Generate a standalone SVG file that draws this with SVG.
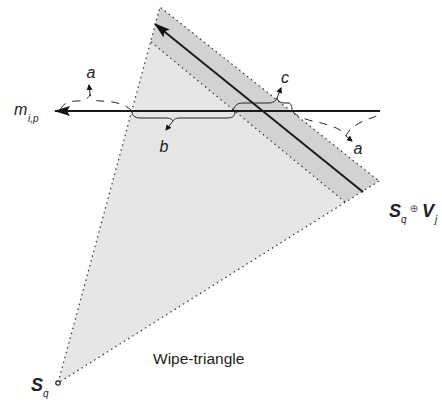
<svg xmlns="http://www.w3.org/2000/svg" width="442" height="401" viewBox="0 0 442 401">
<style>
.dot{fill:none;stroke:#333;stroke-width:1.2;stroke-dasharray:1.5 3.5}
.ln{fill:none;stroke:#1a1a1a;stroke-width:2}
.br{fill:none;stroke:#222;stroke-width:1}
.da{fill:none;stroke:#222;stroke-width:1;stroke-dasharray:8 7}
.lb{font-family:"Liberation Sans",Arial,sans-serif;font-style:italic;font-size:16px;fill:#222}
.bl{font-family:"Liberation Sans",Arial,sans-serif;font-style:italic;font-weight:bold;font-size:18px;fill:#222}
.sb{font-family:"Liberation Sans",Arial,sans-serif;font-style:italic;font-size:10px;fill:#222}
.tx{font-family:"Liberation Sans",Arial,sans-serif;font-size:15.5px;fill:#222}
</style>
<defs>
<marker id="big" viewBox="0 0 16 10" refX="15" refY="5" markerWidth="16" markerHeight="10" markerUnits="userSpaceOnUse" orient="auto"><path d="M0,0 L16,5 L0,10 L3,5 Z" fill="#111"/></marker>
<marker id="sm" viewBox="0 0 6 6" refX="5" refY="3" markerWidth="6" markerHeight="6" markerUnits="userSpaceOnUse" orient="auto"><path d="M0,0 L6,3 L0,6 Z" fill="#111"/></marker>
</defs>
<g id="wipe-triangle">
<polygon points="58,383 160,7 379,181" fill="#e6e6e6"/>
<polygon points="160,7 379,181 345,202 151,42" fill="#d1d3d3"/>
<polyline class="dot" points="379,181 58,383 160,7 379,181"/>
<line class="dot" x1="151" y1="42" x2="345" y2="202"/>
<circle cx="58" cy="383" r="2.2" fill="#fff" stroke="#222" stroke-width="1.2"/>
</g>
<g id="connectors">
<line class="ln" x1="363" y1="192" x2="155" y2="24" marker-end="url(#big)"/>
<line class="ln" x1="380" y1="111" x2="55" y2="111" stroke-width="2.3" marker-end="url(#big)"/>
<path class="br" d="M132,111 C132,117 136,118 142,118 L165,118 C170,118 172,119 173,121 C174,119 176,118 181,118 L226,118 C232,118 235,117 235,111"/>
<line class="br" x1="173" y1="121" x2="166" y2="130" marker-end="url(#sm)"/>
<path class="br" d="M233,111 C235,104 238,103 244,103 L268,103 C273,103 276,101 277,98 C278,101 280,103 284,103 L288,103 C291,103 292,106 292,111"/>
<line class="br" x1="277" y1="98" x2="281" y2="88" marker-end="url(#sm)"/>
<path class="da" d="M132,111 C125,103 110,101 100,101 C95,101 91,98 90,94 C89,98 85,101 78,101 C68,101 62,104 60,111"/>
<line class="br" x1="90" y1="94" x2="89" y2="85" marker-end="url(#sm)"/>
<path class="da" d="M292,111 C300,120 315,121 325,124 C335,127 343,130 346,136 C349,128 360,122 368,119 C375,117 380,115 380,111"/>
<line class="br" x1="346" y1="136" x2="352" y2="141" marker-end="url(#sm)"/>
</g>
<g id="labels">
<text class="lb" x="14" y="115" font-size="17">m</text><text class="sb" x="28" y="122">i,p</text>
<text class="lb" x="91" y="78" text-anchor="middle">a</text>
<text class="lb" x="164" y="152" text-anchor="middle">b</text>
<text class="lb" x="285" y="83" text-anchor="middle">c</text>
<text class="lb" x="358" y="154" text-anchor="middle">a</text>
<text class="bl" x="389" y="217">S</text><text class="sb" x="401" y="223">q</text>
<text x="414" y="212" font-family="DejaVu Sans,sans-serif" font-size="10" fill="#555" text-anchor="middle">⊕</text>
<text class="bl" x="422" y="217">V</text><text class="sb" x="435" y="223">j</text>
<text class="bl" x="31" y="391">S</text><text class="sb" x="43" y="397">q</text>
<text class="tx" x="153" y="364">Wipe-triangle</text>
</g>
</svg>
